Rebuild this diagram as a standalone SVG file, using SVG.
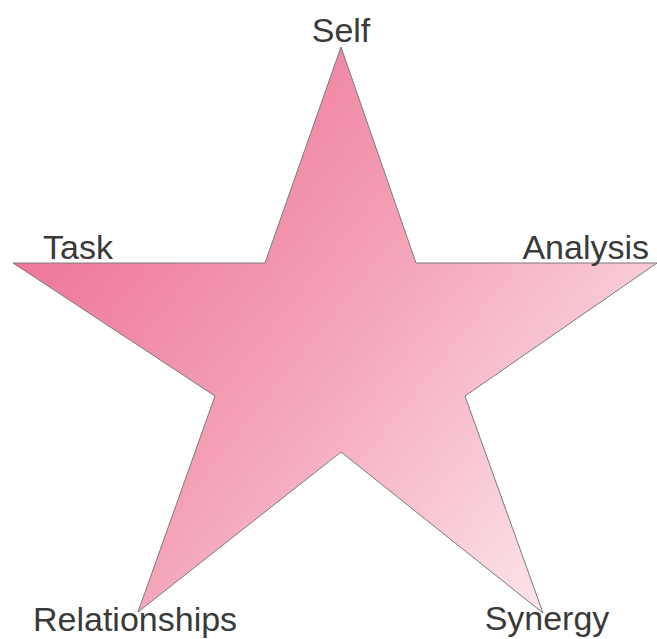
<svg xmlns="http://www.w3.org/2000/svg" width="657" height="639" viewBox="0 0 657 639">
<style>
.lbl{font-family:"Liberation Sans",Arial,sans-serif;font-size:34px;fill:#3a3a3a}
</style>
<defs>
<linearGradient id="g" x1="13" y1="150" x2="600" y2="620" gradientUnits="userSpaceOnUse">
<stop offset="0" stop-color="#ec6b92"/>
<stop offset="0.5" stop-color="#f4a5b9"/>
<stop offset="1" stop-color="#fdeef1"/>
</linearGradient>
</defs>
<rect width="657" height="639" fill="#fff"/>
<g id="star">
<polygon points="341,47 416,263 657,263 465,396 543,613 341,452 138,612 215,396 13,263 265,263" fill="url(#g)" stroke="#7a7a7a" stroke-width="1"/>
</g>
<g id="self"><text class="lbl" x="341" y="42" text-anchor="middle">Self</text></g>
<g id="task"><text class="lbl" x="43" y="259">Task</text></g>
<g id="analysis"><text class="lbl" x="649" y="259" text-anchor="end">Analysis</text></g>
<g id="relationships"><text class="lbl" x="33" y="631">Relationships</text></g>
<g id="synergy"><text class="lbl" x="547" y="630" text-anchor="middle">Synergy</text></g>
</svg>
